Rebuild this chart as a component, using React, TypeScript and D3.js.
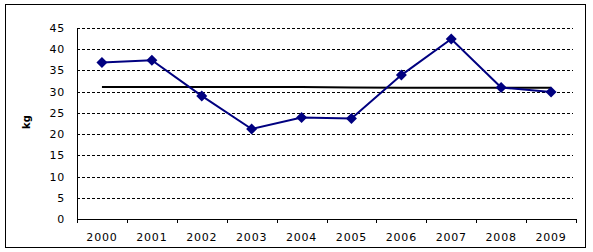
import React from "react";
import * as d3 from "d3";

const years = ["2000", "2001", "2002", "2003", "2004", "2005", "2006", "2007", "2008", "2009"];
const values = [36.9, 37.4, 29.0, 21.2, 23.9, 23.7, 33.9, 42.4, 31.0, 29.9];
const average = [31.1, 31.1, 31.1, 31.1, 31.1, 31.0, 30.9, 30.9, 30.9, 30.9];
const yTicks = [0, 5, 10, 15, 20, 25, 30, 35, 40, 45];
const yLabel = "kg";

export default function App() {
  const W = 593, H = 252;
  const left = 77, right = 576, top = 28, bottom = 219;
  const x = d3.scaleBand<string>().domain(years).range([left, right]);
  const y = d3.scaleLinear().domain([0, 45]).range([bottom, top]);
  const cx = (d: string) => (x(d) as number) + x.bandwidth() / 2;
  const line = d3.line<number>().x((_, i) => cx(years[i])).y((v) => y(v));
  const avgLine = d3.line<number>().x((_, i) => cx(years[i])).y((v) => y(v)).curve(d3.curveLinear);
  const font = "'DejaVu Sans', Verdana, sans-serif";
  const tickXs = [left, ...years.map((d) => (x(d) as number) + x.bandwidth())];
  return (
    <svg width={W} height={H} style={{ position: "absolute", left: 0, top: 0 }}>
      <rect x={0} y={0} width={W} height={H} fill="#fff" />
      <rect x={5.5} y={4.5} width={580} height={243} fill="#fff" stroke="#000" strokeWidth={1} />
      {yTicks.filter((t) => t > 0).map((t) => (
        <line key={t} x1={left} x2={right - 3} y1={Math.round(y(t)) + 0.5} y2={Math.round(y(t)) + 0.5}
          stroke="#000" strokeWidth={1} strokeDasharray="3,2" />
      ))}
      <line x1={left + 0.5} x2={left + 0.5} y1={top} y2={bottom + 0.5} stroke="#000" strokeWidth={1} />
      <line x1={left} x2={right} y1={bottom + 0.5} y2={bottom + 0.5} stroke="#000" strokeWidth={1} />
      {tickXs.map((tx, i) => (
        <line key={i} x1={Math.round(tx) + 0.5} x2={Math.round(tx) + 0.5} y1={bottom} y2={bottom + 4} stroke="#000" />
      ))}
      {yTicks.map((t) => (
        <text key={t} x={65} y={y(t)} dy="0.36em" textAnchor="end" fontFamily={font} fontSize={11}
          letterSpacing={0.8} fill="#000">{t}</text>
      ))}
      {years.map((d) => (
        <text key={d} x={cx(d)} y={241} textAnchor="middle" fontFamily={font} fontSize={11}
          letterSpacing={0.8} fill="#000">{d}</text>
      ))}
      <text transform={`translate(30,122) rotate(-90)`} textAnchor="middle" fontFamily={font}
        fontSize={10} fontWeight="bold" fill="#000">{yLabel}</text>
      <path d={avgLine(average) || ""} fill="none" stroke="#000" strokeWidth={2} />
      <path d={line(values) || ""} fill="none" stroke="#000080" strokeWidth={2} />
      {values.map((v, i) => {
        const px = cx(years[i]), py = y(v), r = 5.5;
        return (
          <path key={i} d={`M${px},${py - r}L${px + r},${py}L${px},${py + r}L${px - r},${py}Z`} fill="#000080" />
        );
      })}
    </svg>
  );
}
